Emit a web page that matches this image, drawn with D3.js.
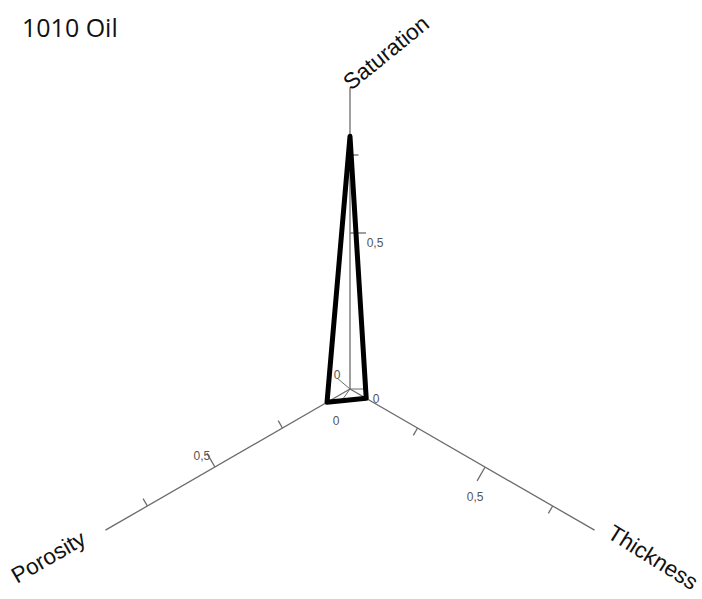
<!DOCTYPE html>
<html>
<head>
<meta charset="utf-8">
<script src="https://cdn.jsdelivr.net/npm/d3@7"></script>
<style>
  html, body { margin: 0; padding: 0; background: #fff; }
  svg { display: block; }
  text { -webkit-font-smoothing: antialiased; }
</style>
</head>
<body>
<script>
// Three-axis radar profile for well 1010 (oil)
const title = "1010 Oil";
const axes = ["Saturation", "Porosity", "Thickness"];
const values = [0.81, 0.085, 0.06];          // normalised reading per axis
const axisAngles = [-90, 150, 30];           // screen direction of each axis, degrees
const axisExtent = [0.965, 0.905, 0.905];    // drawn length of each axis in value units
const minorTicks = [[0.75], [0.25, 0.75], [0.25, 0.75]];
const majorTicks = [0.5];
const tickLabels = ["0", "0,5"];

const W = 702, H = 599;
const cx = 350, cy = 389;

const svg = d3.select("body").append("svg")
  .attr("width", W).attr("height", H);

const r = d3.scaleLinear().domain([0, 1]).range([0, 312]);
const rad = a => a * Math.PI / 180;
const pt = (i, v) => [cx + r(v) * Math.cos(rad(axisAngles[i])), cy + r(v) * Math.sin(rad(axisAngles[i]))];

// tick direction (perpendicular offsets) for each axis
const tickDir = [[1, 0], [-0.5, -0.866], [-0.5, 0.866]];

const axisG = svg.append("g").attr("stroke", "#6b6b6b").attr("stroke-width", 1.3).attr("fill", "none");

// axis lines
axes.forEach((name, i) => {
  const [x2, y2] = pt(i, axisExtent[i]);
  axisG.append("line").attr("x1", cx).attr("y1", cy).attr("x2", x2).attr("y2", y2);
});

// small inner guide lines around the origin
const inner = [[337, 378], [366, 389], [340, 403]];
inner.forEach(([x, y]) => {
  axisG.append("line").attr("x1", cx).attr("y1", cy).attr("x2", x).attr("y2", y)
    .attr("stroke-width", 1);
});

// ticks
axes.forEach((name, i) => {
  const [dx, dy] = tickDir[i];
  minorTicks[i].forEach(t => {
    const [x, y] = pt(i, t);
    axisG.append("line").attr("x1", x).attr("y1", y).attr("x2", x + dx * 8.5).attr("y2", y + dy * 8.5);
  });
  majorTicks.forEach(t => {
    const [x, y] = pt(i, t);
    axisG.append("line").attr("x1", x).attr("y1", y).attr("x2", x + dx * 16).attr("y2", y + dy * 16);
  });
});

// tick labels
const tl = svg.append("g")
  .attr("font-family", "'Liberation Sans', Arial, sans-serif")
  .attr("font-size", 12).attr("fill", "#555")
  .attr("text-anchor", "middle").attr("dominant-baseline", "central");

// label positions for "0" and offsets for "0,5" per axis
const zeroPos = [[337, 375], [336, 421], [376, 399]];
const halfOffset = [[25, 10], [-13, -11], [-10, 30]];
axes.forEach((name, i) => {
  tl.append("text").attr("x", zeroPos[i][0]).attr("y", zeroPos[i][1]).text(tickLabels[0]);
  const [x, y] = pt(i, majorTicks[0]);
  tl.append("text").attr("x", x + halfOffset[i][0]).attr("y", y + halfOffset[i][1]).text(tickLabels[1]);
});

// data polygon
const poly = values.map((v, i) => pt(i, v));
svg.append("path")
  .attr("d", d3.line()(poly) + "Z")
  .attr("fill", "none")
  .attr("stroke", "#000")
  .attr("stroke-width", 5)
  .attr("stroke-linejoin", "round");

// axis titles
const titlePos = [[351, 91, -39], [17, 584, -30], [606, 537, 32]];
const tg = svg.append("g")
  .attr("font-family", "'Liberation Sans', Arial, sans-serif")
  .attr("font-size", 22.5).attr("fill", "#111");
axes.forEach((name, i) => {
  const [x, y, a] = titlePos[i];
  tg.append("text").attr("transform", `translate(${x},${y}) rotate(${a})`).text(name);
});

// chart title
svg.append("text")
  .attr("x", 22).attr("y", 37)
  .attr("font-family", "'Open Sans', sans-serif")
  .attr("font-size", 25).attr("fill", "#111")
  .text(title);
</script>
</body>
</html>
